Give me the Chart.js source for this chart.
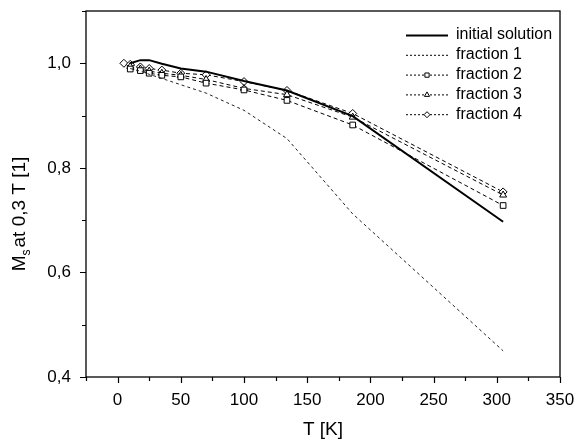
<!DOCTYPE html>
<html>
<head>
<meta charset="utf-8">
<script src="https://cdn.jsdelivr.net/npm/chart.js@4.4.0/dist/chart.umd.min.js"></script>
<style>
  html, body { margin: 0; padding: 0; background: #fff; }
  #wrap { width: 574px; height: 444px; }
</style>
</head>
<body>
<div id="wrap"><canvas id="chart" width="574" height="444"></canvas></div>
<script>
// temperatures in K
const temps = [5, 10, 18, 25, 35, 50, 70, 100, 134, 186, 305];

const initialSolution = [null, 1.0, 1.006, 1.006, 0.999, 0.99, 0.984, 0.966, 0.948, 0.899, 0.697];
const fraction1 = [null, 0.99, 0.985, 0.979, 0.971, 0.959, 0.943, 0.91, 0.856, 0.712, 0.45];
const fraction2 = [null, 0.989, 0.986, 0.981, 0.977, 0.974, 0.962, 0.949, 0.929, 0.882, 0.728];
const fraction3 = [null, 0.994, 0.989, 0.985, 0.981, 0.977, 0.969, 0.952, 0.94, 0.897, 0.748];
const fraction4 = [1.0, 0.998, 0.993, 0.99, 0.987, 0.981, 0.978, 0.965, 0.948, 0.904, 0.754];

const seriesLabels = ['initial solution', 'fraction 1', 'fraction 2', 'fraction 3', 'fraction 4'];

const FONT = "'Liberation Sans', Arial, Helvetica, sans-serif";

function toPoints(values) {
  return temps.map((t, i) => ({ x: t, y: values[i] }));
}

function makeDataset(label, values, style) {
  return Object.assign({
    label: label,
    data: toPoints(values),
    borderColor: '#000',
    backgroundColor: '#fff',
    pointBackgroundColor: '#fff',
    pointBorderColor: '#000',
    pointBorderWidth: 1,
    pointRadius: 0,
    borderWidth: 1,
    tension: 0,
    fill: false
  }, style);
}

const datasets = [
  makeDataset(seriesLabels[0], initialSolution, { borderWidth: 2 }),
  makeDataset(seriesLabels[1], fraction1, { borderDash: [3, 3], borderColor: '#222' }),
  makeDataset(seriesLabels[2], fraction2, { borderDash: [4, 3], pointStyle: 'rect', pointRadius: 4 }),
  makeDataset(seriesLabels[3], fraction3, { borderDash: [4, 3], pointStyle: 'triangle', pointRadius: 4 }),
  makeDataset(seriesLabels[4], fraction4, { borderDash: [4, 3], pointStyle: 'rectRot', pointRadius: 4 })
];

function drawMarker(ctx, style, x, y, r) {
  ctx.save();
  ctx.setLineDash([]);
  ctx.fillStyle = '#fff';
  ctx.strokeStyle = '#000';
  ctx.lineWidth = 1;
  ctx.beginPath();
  if (style === 'rect') {
    const s = r * Math.SQRT1_2;
    ctx.rect(x - s, y - s, 2 * s, 2 * s);
  } else if (style === 'triangle') {
    ctx.moveTo(x, y - r);
    ctx.lineTo(x + r * 0.866, y + r * 0.5);
    ctx.lineTo(x - r * 0.866, y + r * 0.5);
    ctx.closePath();
  } else if (style === 'rectRot') {
    ctx.moveTo(x, y - r);
    ctx.lineTo(x + r, y);
    ctx.lineTo(x, y + r);
    ctx.lineTo(x - r, y);
    ctx.closePath();
  }
  ctx.fill();
  ctx.stroke();
  ctx.restore();
}

const framePlugin = {
  id: 'frame',
  afterDraw(chart) {
    const ctx = chart.ctx;
    const area = chart.chartArea;
    const xs = chart.scales.x;
    const ys = chart.scales.y;
    ctx.save();
    ctx.strokeStyle = '#000';
    ctx.lineWidth = 1.3;
    ctx.strokeRect(area.left, area.top, area.right - area.left, area.bottom - area.top);

    // outward tick marks
    ctx.lineWidth = 1.2;
    ctx.beginPath();
    for (let v = -25; v <= 350; v += 25) {
      const px = Math.round(xs.getPixelForValue(v)) + 0.5;
      const len = v % 50 === 0 ? 6 : 4;
      ctx.moveTo(px, area.bottom);
      ctx.lineTo(px, area.bottom + len);
    }
    for (let k = 4; k <= 11; k++) {
      const py = Math.round(ys.getPixelForValue(k / 10)) + 0.5;
      const len = (k % 2 === 0) ? 6 : 4;
      ctx.moveTo(area.left, py);
      ctx.lineTo(area.left - len, py);
    }
    ctx.stroke();

    // y axis title with subscript
    ctx.fillStyle = '#000';
    ctx.translate(25, 214);
    ctx.rotate(-Math.PI / 2);
    ctx.textBaseline = 'alphabetic';
    ctx.font = '19px ' + FONT;
    const wM = ctx.measureText('M').width;
    const rest = 'at 0,3 T [1]';
    const wRest = ctx.measureText(rest).width;
    ctx.font = '12px ' + FONT;
    const wS = ctx.measureText('s').width;
    const total = wM + wS + 2 + wRest;
    let cx = -total / 2;
    ctx.font = '19px ' + FONT;
    ctx.fillText('M', cx, 0);
    cx += wM;
    ctx.font = '12px ' + FONT;
    ctx.fillText('s', cx, 5);
    cx += wS + 2;
    ctx.font = '19px ' + FONT;
    ctx.fillText(rest, cx, 0);
    ctx.restore();

    // legend
    ctx.save();
    ctx.font = '16px ' + FONT;
    ctx.textBaseline = 'middle';
    ctx.fillStyle = '#000';
    chart.data.datasets.forEach((ds, i) => {
      const y = 35 + i * 19.8;
      ctx.beginPath();
      ctx.strokeStyle = '#000';
      ctx.lineWidth = ds.borderWidth;
      ctx.setLineDash(ds.pointStyle ? [2, 2] : (ds.borderDash ? [2, 2] : []));
      ctx.moveTo(406, y + 0.5);
      ctx.lineTo(448, y + 0.5);
      ctx.stroke();
      if (ds.pointStyle) drawMarker(ctx, ds.pointStyle, 427, y + 0.5, 3);
      ctx.fillText(ds.label, 456, y);
    });
    ctx.restore();
  }
};

new Chart(document.getElementById('chart').getContext('2d'), {
  type: 'line',
  data: { datasets: datasets },
  options: {
    responsive: false,
    animation: false,
    layout: { padding: { top: 11, right: 14, left: 0, bottom: 0 } },
    plugins: {
      legend: { display: false },
      tooltip: { enabled: false }
    },
    scales: {
      x: {
        type: 'linear',
        min: -25,
        max: 350,
        border: { display: false },
        grid: { display: false, drawTicks: false, tickLength: 0 },
        ticks: {
          stepSize: 25,
          autoSkip: false,
          maxRotation: 0,
          padding: 13,
          color: '#000',
          font: { family: FONT, size: 17 },
          callback: (v) => (v % 50 === 0 ? String(v) : '')
        },
        title: {
          display: true,
          text: 'T [K]',
          color: '#000',
          font: { family: FONT, size: 19 },
          padding: { top: 0, bottom: 3 }
        },
        afterFit: (scale) => {
          scale.height = 67;
          scale.paddingLeft = 0;
          scale.paddingRight = 0;
        }
      },
      y: {
        type: 'linear',
        min: 0.4,
        max: 1.1,
        border: { display: false },
        grid: { display: false, drawTicks: false, tickLength: 0 },
        ticks: {
          stepSize: 0.1,
          autoSkip: false,
          padding: 15,
          color: '#000',
          font: { family: FONT, size: 17 },
          callback: (v) => {
            const k = Math.round(v * 10);
            return (k % 2 === 0 && k <= 10) ? (k / 10).toFixed(1).replace('.', ',') : '';
          }
        },
        afterFit: (scale) => {
          scale.width = 86;
          scale.paddingTop = 0;
          scale.paddingBottom = 0;
        }
      }
    }
  },
  plugins: [framePlugin]
});
</script>
</body>
</html>
